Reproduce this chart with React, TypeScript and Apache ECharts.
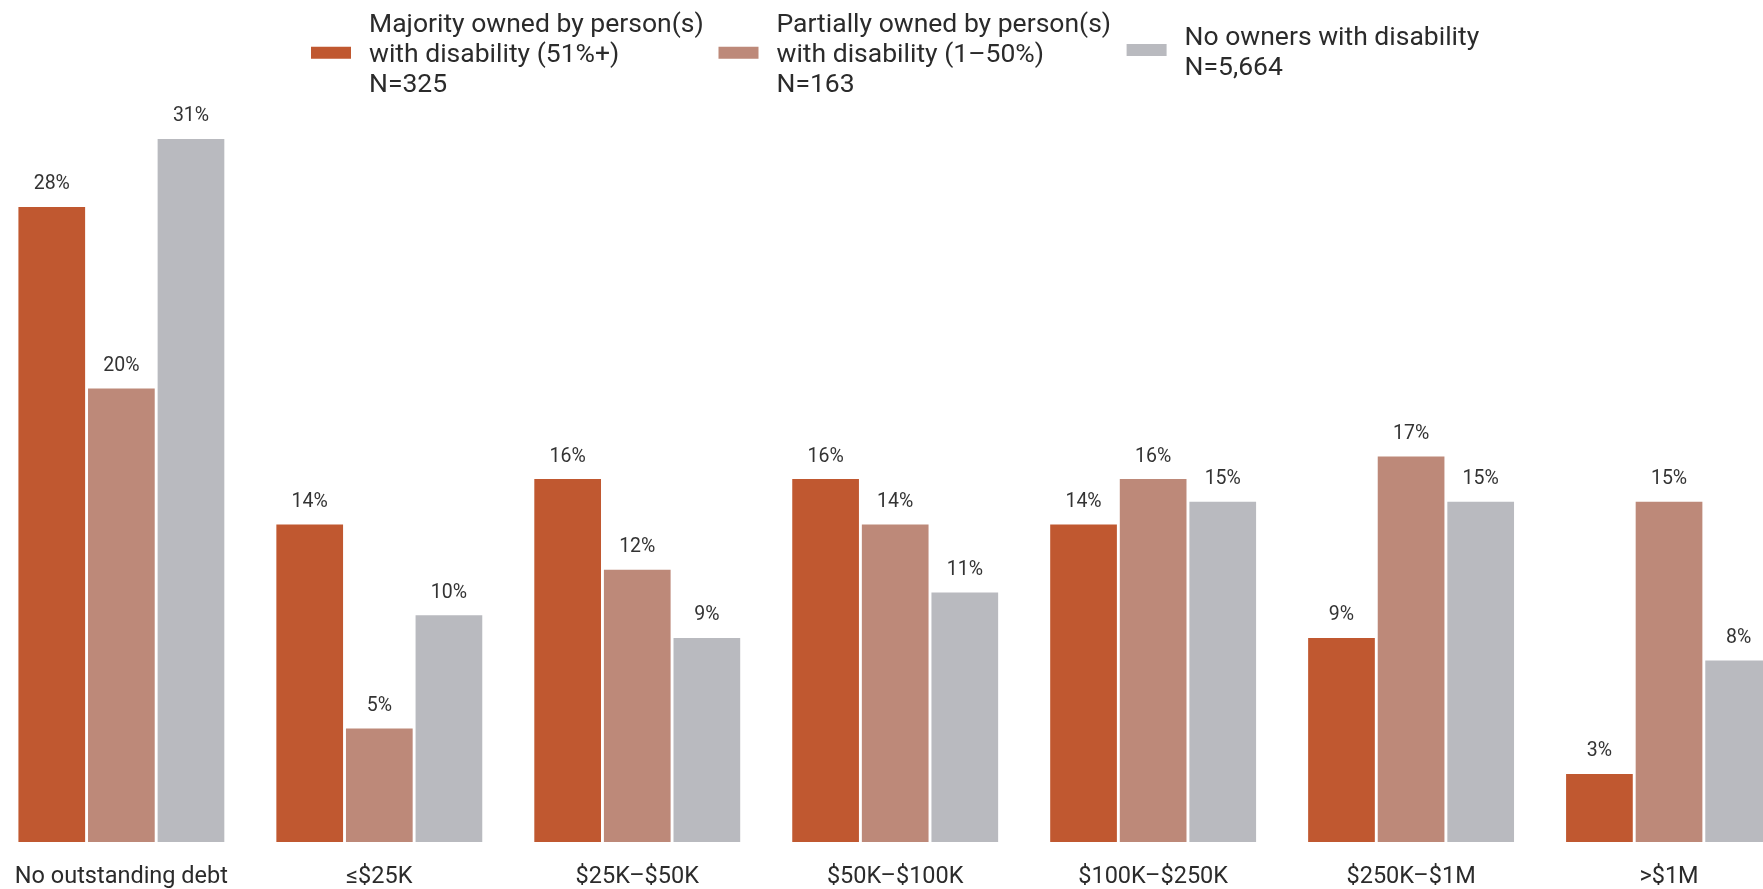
import React, { useEffect, useRef } from "react";
import * as echarts from "echarts";

const categories = [
  "No outstanding debt",
  "≤$25K",
  "$25K–$50K",
  "$50K–$100K",
  "$100K–$250K",
  "$250K–$1M",
  ">$1M",
];
const seriesNames = ["Majority", "Partial", "None"];
const legendLabels = [
  "Majority owned by person(s)\nwith disability (51%+)\nN=325",
  "Partially owned by person(s)\nwith disability (1–50%)\nN=163",
  "No owners with disability\nN=5,664",
];
const majorityValues = [28, 14, 16, 16, 14, 9, 3];
const partialValues = [20, 5, 12, 14, 16, 17, 15];
const noneValues = [31, 10, 9, 11, 15, 15, 8];
const colors = ["#C05830", "#BD8979", "#B9BABF"];

export default function App() {
  const ref = useRef<HTMLDivElement>(null);
  useEffect(() => {
    if (!ref.current) return;
    const chart = echarts.init(ref.current, null, { renderer: "svg" });
    const allValues = [majorityValues, partialValues, noneValues];
    const legendLefts = [311, 718.5, 1126.6];
    const legendTops = [2.8, 2.8, 15];
    chart.setOption({
      animation: false,
      textStyle: { fontFamily: "Roboto, sans-serif" },
      legend: seriesNames.map((n, i) => ({
        data: [n],
        left: legendLefts[i],
        top: legendTops[i],
        padding: 0,
        itemWidth: 40,
        itemHeight: 12,
        icon: "rect",
        formatter: () => legendLabels[i],
        textStyle: {
          fontFamily: "Roboto, sans-serif",
          fontSize: 26.5,
          lineHeight: 30,
          color: "#2b2b2b",
          padding: [0, 0, 10, 13],
        },
      })),
      grid: {
        left: -7.6,
        right: -35,
        top: 48.2,
        bottom: 47,
        containLabel: false,
        outerBoundsMode: "none",
      },
      xAxis: {
        type: "category",
        data: categories,
        axisLine: { show: false },
        axisTick: { show: false },
        axisLabel: {
          interval: 0,
          margin: 21,
          fontSize: 23.5,
          color: "#2b2b2b",
          fontFamily: "Roboto, sans-serif",
        },
      },
      yAxis: {
        type: "value",
        min: 0,
        max: 35,
        show: false,
        splitLine: { show: false },
      },
      series: seriesNames.map((n, i) => ({
        name: n,
        type: "bar",
        data: allValues[i],
        barWidth: 66.7,
        barGap: "4.35%",
        itemStyle: { color: colors[i] },
        label: {
          show: true,
          position: "top",
          distance: 14,
          formatter: "{c}%",
          fontSize: 19.5,
          color: "#333",
          fontFamily: "Roboto, sans-serif",
        },
      })),
    });
    return () => chart.dispose();
  }, []);
  return (
    <div
      ref={ref}
      style={{ position: "fixed", left: 0, top: 0, width: 1763, height: 889 }}
    />
  );
}
